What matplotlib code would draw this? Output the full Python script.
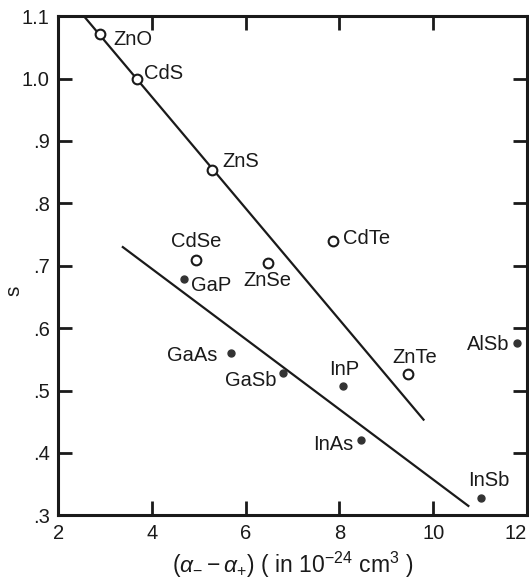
import matplotlib.pyplot as plt

plt.rcParams['font.family'] = ['Liberation Sans', 'DejaVu Sans']
plt.rcParams['mathtext.fontset'] = 'custom'
plt.rcParams['mathtext.rm'] = 'Liberation Sans'
plt.rcParams['mathtext.it'] = 'Liberation Sans:italic'

# II-VI compounds (open circles)
open_names = ["ZnO", "CdS", "ZnS", "CdSe", "ZnSe", "CdTe", "ZnTe"]
open_x = [2.89, 3.69, 5.28, 4.95, 6.47, 7.87, 9.47]
open_s = [1.071, 1.0, 0.853, 0.71, 0.705, 0.74, 0.526]

# III-V compounds (filled dots)
fill_names = ["GaP", "GaAs", "GaSb", "InP", "AlSb", "InAs", "InSb"]
fill_x = [4.68, 5.68, 6.80, 8.07, 11.78, 8.47, 11.03]
fill_s = [0.678, 0.56, 0.528, 0.507, 0.576, 0.42, 0.328]

# straight lines drawn through the two groups
upper_x = [2.55, 9.81]
upper_s = [1.10, 0.452]
lower_x = [3.36, 10.77]
lower_s = [0.731, 0.314]

# label offsets (pixels) and alignment
label_pos = {
    "ZnO": (13, -5, "left"), "CdS": (7, 5, "left"), "ZnS": (10, 9, "left"),
    "CdSe": (0, 18, "center"), "ZnSe": (0, -18, "center"), "CdTe": (10, 2, "left"),
    "ZnTe": (6, 17, "center"), "GaP": (7, -6, "left"), "GaAs": (-13, -2, "right"),
    "GaSb": (-7, -7, "right"), "InP": (2, 17, "center"), "AlSb": (-7, -1, "right"),
    "InAs": (-8, -4, "right"), "InSb": (7, 17, "center"),
}

ink = "#1a1a1a"
fs = 14.5

fig = plt.figure(figsize=(5.29, 5.79), dpi=100)
ax = fig.add_axes([0.110, 0.110, 0.886, 0.862])

ax.plot(upper_x, upper_s, color=ink, linewidth=1.6, solid_capstyle="butt")
ax.plot(lower_x, lower_s, color=ink, linewidth=1.6, solid_capstyle="butt")

ax.plot(open_x, open_s, linestyle="none", marker="o", markersize=7,
        markerfacecolor="white", markeredgecolor=ink, markeredgewidth=1.5, zorder=3)
ax.plot(fill_x, fill_s, linestyle="none", marker="o", markersize=5,
        markerfacecolor="#333333", markeredgecolor="#333333", zorder=3)

for names, xs, ss in [(open_names, open_x, open_s), (fill_names, fill_x, fill_s)]:
    for n, x, s in zip(names, xs, ss):
        dx, dy, ha = label_pos[n]
        ax.annotate(n, (x, s), xytext=(dx, dy), textcoords="offset pixels",
                    ha=ha, va="center", fontsize=fs, color=ink)

ax.set_xlim(2, 12)
ax.set_ylim(0.3, 1.1)
ax.set_xticks([2, 4, 6, 8, 10, 12])
ax.set_yticks([0.3, 0.4, 0.5, 0.6, 0.7, 0.8, 0.9, 1.0, 1.1])
ax.set_yticklabels([".3", ".4", ".5", ".6", ".7", ".8", ".9", "1.0", "1.1"])

for sp in ax.spines.values():
    sp.set_linewidth(2.2)
    sp.set_color(ink)

ax.tick_params(direction="in", length=10, width=2, top=True, right=True,
               labelsize=fs, colors=ink, pad=6)
ax.get_xticklabels()[-1].set_horizontalalignment("right")

ax.set_xlabel(r"$(\alpha_{-} - \alpha_{+})$ ( in 10$^{-24}$ cm$^{3}$ )",
              fontsize=16.5, color=ink, labelpad=5)
ax.set_ylabel("s", fontsize=15, color=ink)
ax.yaxis.set_label_coords(-0.075, 0.45)

fig.savefig("out.png", dpi=100)
